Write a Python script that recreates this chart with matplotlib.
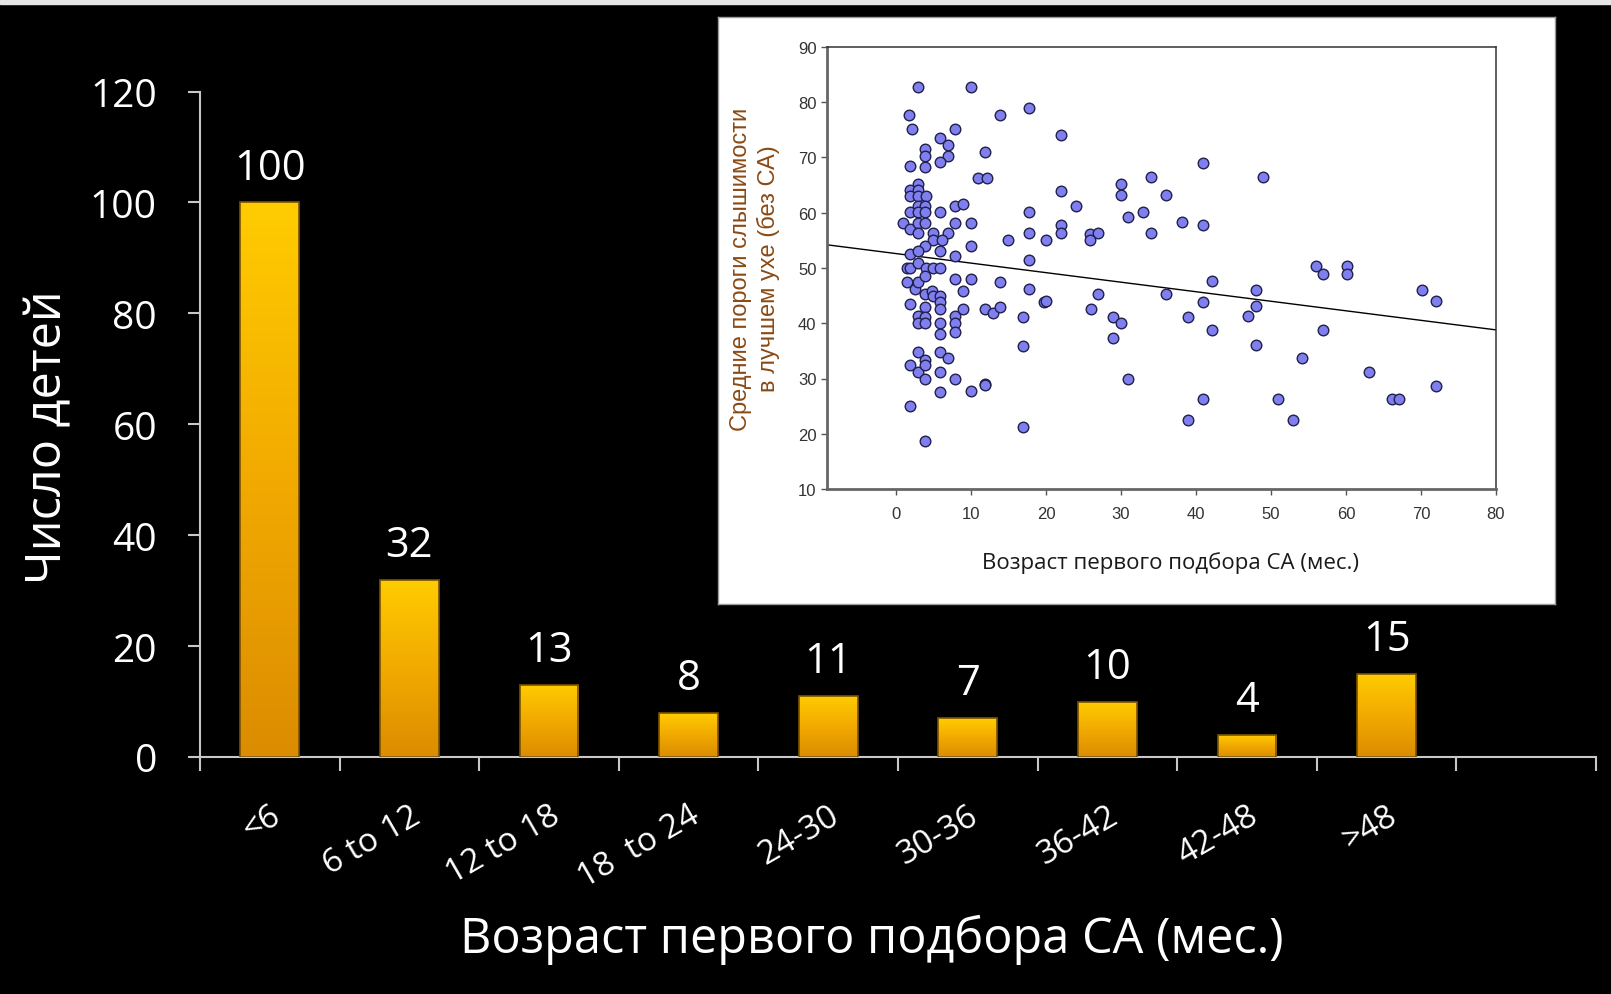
import numpy as np
import matplotlib
matplotlib.use("Agg")
import matplotlib.pyplot as plt
from matplotlib.colors import LinearSegmentedColormap
from matplotlib.patches import Rectangle

# bar chart: number of children per age group of first fitting
categories = ["<6", "6 to 12", "12 to 18", "18  to 24", "24-30", "30-36", "36-42", "42-48", ">48"]
counts = [100, 32, 13, 8, 11, 7, 10, 4, 15]
y_ticks = [0, 20, 40, 60, 80, 100, 120]

# inset scatter: age of first fitting (months) vs mean threshold in better ear
scatter_x = [3.0, 10.0, 1.7, 2.1, 7.9, 13.9, 17.8,
             5.9, 7.0, 7.0, 3.9, 3.9, 1.9, 3.9, 5.9, 11.9, 11.0, 12.1,
             3.0, 1.9, 3.0, 1.9, 3.0, 4.0,
             7.9, 9.0, 3.0, 3.9,
             1.9, 3.0, 3.9, 5.9, 17.8,
             0.9, 1.9, 3.0, 3.9, 7.9, 10.0,
             3.0, 5.0, 7.0, 5.0, 6.1, 17.8, 15.0,
             10.0, 3.9, 1.9, 3.0, 5.9, 7.9, 17.8,
             1.5, 1.9, 3.0, 4.0, 5.0, 5.9,
             1.5, 2.6, 3.0, 3.9, 7.9, 10.0, 9.0, 13.9, 17.8, 19.8,
             3.9, 4.8, 5.0, 5.9, 5.9, 5.9, 1.9, 3.9,
             3.0, 3.9, 3.0, 3.9, 5.9, 5.9, 7.9, 7.9, 7.9, 9.0, 11.9, 13.0, 13.9, 16.9, 16.9,
             3.0, 3.9, 5.9, 7.0, 1.9, 3.0, 3.9, 5.9, 3.9, 7.9,
             5.9, 10.0, 11.9, 11.9, 1.9, 3.9, 16.9,
             22, 22, 24, 22, 22, 20, 25.9, 27, 25.9, 30, 30, 34, 36, 31, 33, 34,
             38.1, 41, 41, 49, 56, 57, 60.1, 60.1,
             20, 26, 27, 29, 30, 29, 31, 36, 39, 39, 41, 42.1, 42.1, 41,
             48, 48, 47, 48, 51, 53, 54.1, 57, 63.1, 66.1, 67.1, 70.1, 72, 72]
scatter_y = [82.7, 82.7, 77.7, 75.2, 75.2, 77.7, 79.0,
             73.5, 72.2, 70.2, 71.5, 70.2, 68.5, 68.3, 69.2, 71.0, 66.2, 66.2,
             65.2, 64.2, 64.2, 63.0, 63.0, 63.0,
             61.2, 61.5, 61.2, 61.2,
             60.1, 60.1, 60.1, 60.1, 60.1,
             58.1, 57.0, 58.1, 58.1, 58.2, 58.2,
             56.4, 56.4, 56.3, 55.0, 55.0, 56.4, 55.0,
             53.9, 54.0, 52.6, 53.0, 53.0, 52.1, 51.4,
             50.0, 50.0, 50.9, 50.0, 50.0, 50.0,
             47.4, 46.2, 47.4, 48.6, 48.0, 48.0, 45.9, 47.4, 46.2, 43.8,
             45.3, 45.9, 45.0, 45.0, 43.8, 42.6, 43.4, 42.9,
             41.4, 41.1, 40.0, 40.0, 40.0, 38.0, 41.3, 40.0, 38.5, 42.6, 42.6, 41.8, 42.9, 41.1, 35.8,
             34.8, 33.4, 34.8, 33.7, 32.5, 31.2, 32.5, 31.2, 30.0, 30.0,
             27.5, 27.7, 29.0, 28.8, 25.1, 18.7, 21.3,
             74.1, 64.0, 61.3, 57.8, 56.3, 55.1, 56.1, 56.4, 55.1, 65.2, 63.3, 66.4, 63.3, 59.2, 60.2, 56.3,
             58.3, 57.7, 69.0, 66.4, 50.3, 49.0, 50.3, 49.0,
             44.1, 42.6, 45.3, 41.1, 40.0, 37.3, 29.9, 45.3, 41.1, 22.4, 43.9, 47.7, 38.7, 26.2,
             46.1, 43.2, 41.4, 36.1, 26.2, 22.4, 33.8, 38.7, 31.1, 26.2, 26.2, 46.1, 44.1, 28.6]
# regression line, read at both ends of the inset x range
trend_x = [-9.2, 80]
trend_y = [54.2, 38.8]

W, H = 1611, 995
fig = plt.figure(figsize=(W / 100, H / 100), dpi=100)
fig.patch.set_facecolor("black")
fig.add_artist(Rectangle((0, 1 - 5 / H), 1, 5 / H, transform=fig.transFigure,
                         color="#e6e6e6", zorder=0))

font_main = ["Open Sans", "DejaVu Sans"]

# main bar chart
ax = fig.add_axes([200 / W, 1 - 758 / H, 1396 / W, 665.5 / H])
ax.set_facecolor("black")
pos = np.arange(len(categories)) + 0.5
bars = ax.bar(pos, counts, width=0.42, color="none", edgecolor="#7a5200",
              linewidth=1.2, zorder=3)
grad = np.linspace(0, 1, 256).reshape(-1, 1)
gold = LinearSegmentedColormap.from_list("gold", ["#DB8C00", "#F2AA00", "#FFCC00"])
for b in bars:
    im = ax.imshow(grad, cmap=gold, origin="lower", aspect="auto", zorder=2,
                   extent=[b.get_x(), b.get_x() + b.get_width(), 0, b.get_height()])
    im.set_clip_path(b)
for p, c in zip(pos, counts):
    ax.text(p, c + 2.5, str(c), ha="center", va="bottom", color="white",
            fontsize=30, family=font_main)

ax.set_xlim(0, 10)
ax.set_ylim(0, 120)
ax.set_yticks(y_ticks)
ax.set_yticklabels([str(t) for t in y_ticks], color="white", fontsize=28, family=font_main)
ax.set_xticks(np.arange(0, 11))
ax.set_xticklabels([])
ax.set_xticks(pos, minor=True)
ax.set_xticklabels(categories, minor=True, rotation=30, ha="right", va="top",
                   rotation_mode="anchor", color="white", fontsize=24, family=font_main)
ax.tick_params(axis="x", which="major", length=10, width=1.5, color="#c8c8c8", direction="out")
ax.tick_params(axis="x", which="minor", length=0, pad=30)
ax.tick_params(axis="y", length=9, width=1.5, color="#c8c8c8", pad=22)
for s in ["top", "right"]:
    ax.spines[s].set_visible(False)
for s in ["left", "bottom"]:
    ax.spines[s].set_color("#c8c8c8")
    ax.spines[s].set_linewidth(1.5)

fig.text(49 / W, 1 - 437 / H, "Число детей", rotation=90, ha="center", va="center",
         color="white", fontsize=35, family=font_main)
fig.text(872 / W, 1 - 940 / H, "Возраст первого подбора СА (мес.)", ha="center", va="center",
         color="white", fontsize=35, family=font_main)

# white panel behind the inset
panel = fig.add_axes([718 / W, 1 - 605 / H, 837 / W, 587 / H], zorder=4)
panel.set_facecolor("white")
panel.set_xticks([])
panel.set_yticks([])
for s in panel.spines.values():
    s.set_color("#9a9a9a")
    s.set_linewidth(1)

# inset scatter
ax2 = fig.add_axes([827 / W, 1 - 490 / H, 669 / W, 442 / H], zorder=5)
ax2.set_facecolor("white")
ax2.scatter(scatter_x, scatter_y, s=58, facecolor="#7F7FEF", edgecolor="#20204a",
            linewidth=1.0, zorder=3)
ax2.plot(trend_x, trend_y, color="black", linewidth=1, zorder=2)
ax2.set_xlim(-9.2, 80)
ax2.set_ylim(10, 90)
ax2.set_xticks(range(0, 81, 10))
ax2.set_yticks(range(10, 91, 10))
ax2.tick_params(labelsize=12, labelcolor="#333333", color="#555555", length=4, width=1)
ax2.tick_params(axis="x", pad=8)
for lab in ax2.get_xticklabels() + ax2.get_yticklabels():
    lab.set_family(["Liberation Sans", "DejaVu Sans"])
for s in ax2.spines.values():
    s.set_color("#333333")
    s.set_linewidth(1.1)
ax2.spines["left"].set_color("#666666")
ax2.spines["left"].set_linewidth(2)
ax2.spines["bottom"].set_color("#666666")
ax2.spines["bottom"].set_linewidth(2)

fig.text(755 / W, 1 - 269 / H, "Средние пороги слышимости\nв лучшем ухе (без СА)",
         rotation=90, ha="center", va="center", multialignment="center", linespacing=1.3,
         color="#8a4a14", fontsize=17, family=["Liberation Sans", "DejaVu Sans"], zorder=6)
fig.text(1171 / W, 1 - 563 / H, "Возраст первого подбора СА (мес.)", ha="center", va="center",
         color="#1a1a1a", fontsize=16, family=font_main, zorder=6)

fig.savefig("out.png", dpi=100, facecolor="black")
